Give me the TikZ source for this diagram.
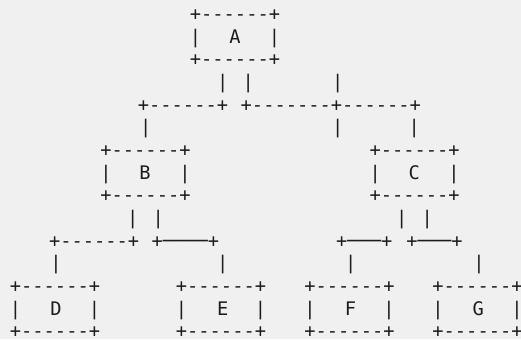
\documentclass[tikz,border=0pt]{standalone}
\usepackage{fontspec}
\usepackage{xcolor}
\newfontfamily\asciifont{DejaVu Sans Mono}[Ligatures=TeXOff]
\definecolor{paper}{HTML}{F0F0F0}
\definecolor{ink}{HTML}{1C1C1C}
\tikzset{glyph/.style={inner sep=0pt, anchor=base, text=ink,
    font=\asciifont\fontsize{18.7}{22}\selectfont}}

\begin{document}
\begin{tikzpicture}[x=1pt, y=-22.67pt]
    \fill[paper] (0,0) rectangle (521,14.954);
    \useasboundingbox (0,0) rectangle (521,14.954);

    % boxes: name / box centre / letter x / top row
    \foreach \name/\xc/\xl/\r in {A/235/235/0, B/145.5/145/6, C/414.7/414.3/6,
        D/55/56/12, E/221/222.7/12, F/349.5/350.5/12, G/477.5/478.3/12} {
        \node (\name top) [glyph] at ({\xc},{\r+0.9}) {+------+};
        \node (\name left) [glyph] at ({\xc-39.4},{\r+1.9}) {|};
        \node (\name) [glyph] at ({\xl},{\r+1.9}) {\name};
        \node (\name right) [glyph] at ({\xc+39.4},{\r+1.9}) {|};
        \node (\name bot) [glyph] at ({\xc},{\r+2.9}) {+------+};
    }

    % vertical links
    \foreach \x/\r [count=\i] in {222.7/3, 248.3/3, 337.7/3, 145.7/5, 337.7/5, 414.3/5,
        132.7/9, 158.3/9, 401.7/9, 427.3/9, 56/11, 222.7/11, 350.7/11, 479/11}
        \node (bar\i) [glyph] at ({\x},{\r+0.9}) {|};

    % horizontal links
    \node (ABsplit) [glyph] at (183,4.9) {+------+};
    \node (ACsplit) [glyph] at (330.8,4.9) {+-------+------+};
    \node (BDsplit) [glyph] at (94.2,10.9) {+------+};
    \node (BEsplit) [glyph] at (185.3,10.9) {+────+};
    \node (CFsplit) [glyph] at (364.2,10.9) {+───+};
    \node (CGsplit) [glyph] at (434.5,10.9) {+───+};
\end{tikzpicture}
\end{document}
